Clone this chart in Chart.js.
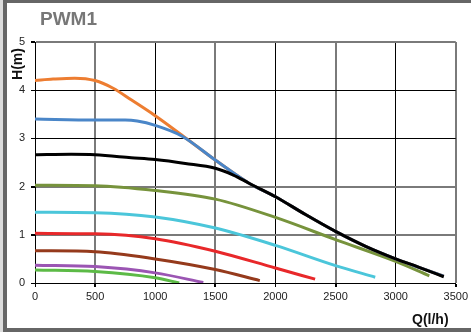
<!DOCTYPE html>
<html>
<head>
<meta charset="utf-8">
<script src="https://cdn.jsdelivr.net/npm/chart.js@4/dist/chart.umd.min.js"></script>
<style>
  html, body { margin: 0; padding: 0; background: #fff; }
  #frame { position: relative; width: 471px; height: 332px; overflow: hidden; background: #fff; }
  #chart { position: absolute; left: 0; top: 0; }
  .bar { position: absolute; background: #666; }
  .txt { position: absolute; font-family: "Liberation Sans", Arial, sans-serif; font-weight: bold; white-space: nowrap; }
</style>
</head>
<body>
<div id="frame">
  <canvas id="chart" width="471" height="332"></canvas>
  <div class="bar" style="left:0;top:0;width:3px;height:332px;background:#dcdcdc"></div>
  <div class="bar" style="left:3px;top:0;width:4px;height:332px"></div>
  <div class="bar" style="left:3px;top:0;width:468px;height:3px"></div>
  <div class="bar" style="left:3px;top:328px;width:468px;height:4px"></div>
  <div class="txt" style="left:40px;top:8px;font-size:19px;color:#777">PWM1</div>
  <div class="txt" style="left:17px;top:64px;font-size:14px;color:#111;transform:translate(-50%,-50%) rotate(-90deg)">H(m)</div>
  <div class="txt" style="left:412px;top:311px;font-size:14px;color:#111">Q(l/h)</div>
</div>
<script>
// pump curves, [Q l/h, H m]
const curveOrange = [[0, 4.2], [150, 4.23], [330, 4.25], [500, 4.2], [650, 4.04], [800, 3.8], [1000, 3.47], [1220, 3.07], [1500, 2.55], [1780, 2.07], [2000, 1.79], [2250, 1.42], [2500, 1.07], [2750, 0.76], [3000, 0.5], [3200, 0.32], [3400, 0.14]];
const curveBlue = [[0, 3.4], [500, 3.38], [750, 3.38], [850, 3.36], [1000, 3.27], [1220, 3.05], [1500, 2.55], [1780, 2.07], [2000, 1.79], [2250, 1.42], [2500, 1.07], [2750, 0.76], [3000, 0.5], [3200, 0.32], [3400, 0.14]];
const curveBlack = [[0, 2.66], [300, 2.67], [500, 2.66], [800, 2.6], [1000, 2.56], [1250, 2.48], [1500, 2.38], [1650, 2.24], [1780, 2.07], [2000, 1.79], [2250, 1.42], [2500, 1.07], [2750, 0.76], [3000, 0.5], [3200, 0.32], [3400, 0.13]];
const curveOlive = [[0, 2.03], [500, 2.02], [1000, 1.92], [1500, 1.74], [2000, 1.36], [2500, 0.9], [3000, 0.45], [3280, 0.15]];
const curveCyan = [[0, 1.47], [500, 1.46], [1000, 1.37], [1500, 1.14], [2000, 0.78], [2500, 0.36], [2830, 0.12]];
const curveRed = [[0, 1.03], [500, 1.02], [1000, 0.92], [1500, 0.66], [2000, 0.31], [2330, 0.08]];
const curveBrown = [[0, 0.67], [500, 0.65], [1000, 0.5], [1500, 0.28], [1870, 0.05]];
const curvePurple = [[0, 0.37], [500, 0.34], [1000, 0.21], [1400, 0.01]];
const curveGreen = [[0, 0.27], [500, 0.24], [1000, 0.11], [1200, 0.0]];

const xTicks = [0, 500, 1000, 1500, 2000, 2500, 3000, 3500];
const yTicks = [0, 1, 2, 3, 4, 5];

function toPts(curve) {
    return curve.map(p => ({ x: p[0], y: p[1] }));
}

function line(curve, color) {
    return {
        data: toPts(curve),
        borderColor: color,
        borderWidth: 3,
        pointRadius: 0,
        fill: false,
        cubicInterpolationMode: 'monotone'
    };
}

const tickFont = { family: '"Liberation Sans", Arial, sans-serif', size: 11 };

const ctx = document.getElementById('chart').getContext('2d');
new Chart(ctx, {
    type: 'line',
    data: {
        datasets: [
            line(curveBlack, '#000000'),
            line(curveBlue, '#4a86c8'),
            line(curveOrange, '#ed7d31'),
            line(curveOlive, '#77933c'),
            line(curveCyan, '#4bc6da'),
            line(curveRed, '#e8282a'),
            line(curveBrown, '#953a1c'),
            line(curvePurple, '#9b55b3'),
            line(curveGreen, '#5cba46')
        ]
    },
    options: {
        responsive: false,
        animation: false,
        layout: { padding: { left: 0, top: 42, right: 12.5, bottom: 0 } },
        plugins: { legend: { display: false }, tooltip: { enabled: false } },
        scales: {
            x: {
                type: 'linear',
                min: 0,
                max: 3500,
                afterBuildTicks: s => { s.ticks = xTicks.map(v => ({ value: v })); },
                afterFit: s => { s.height = 49; },
                border: { color: '#000', width: 1 },
                grid: {
                    color: c => (c.tick && c.tick.value % 1000 === 0) ? '#000' : '#7a7a7a',
                    lineWidth: c => (c.tick && c.tick.value % 1000 === 0) ? 1 : 2,
                    tickLength: 4,
                    tickColor: '#000'
                },
                ticks: {
                    padding: 3,
                    color: '#222',
                    font: tickFont,
                    maxRotation: 0,
                    callback: v => String(v)
                }
            },
            y: {
                min: 0,
                max: 5,
                afterBuildTicks: s => { s.ticks = yTicks.map(v => ({ value: v })); },
                afterFit: s => { s.width = 35; },
                border: { color: '#000', width: 1 },
                grid: {
                    color: c => (c.tick && [0, 3, 4].includes(c.tick.value)) ? '#000' : '#7a7a7a',
                    lineWidth: c => (c.tick && [0, 3, 4].includes(c.tick.value)) ? 1 : 2,
                    tickLength: 4,
                    tickColor: '#000'
                },
                ticks: {
                    padding: 6,
                    color: '#222',
                    font: tickFont,
                    callback: v => String(v)
                }
            }
        }
    }
});
</script>
</body>
</html>
